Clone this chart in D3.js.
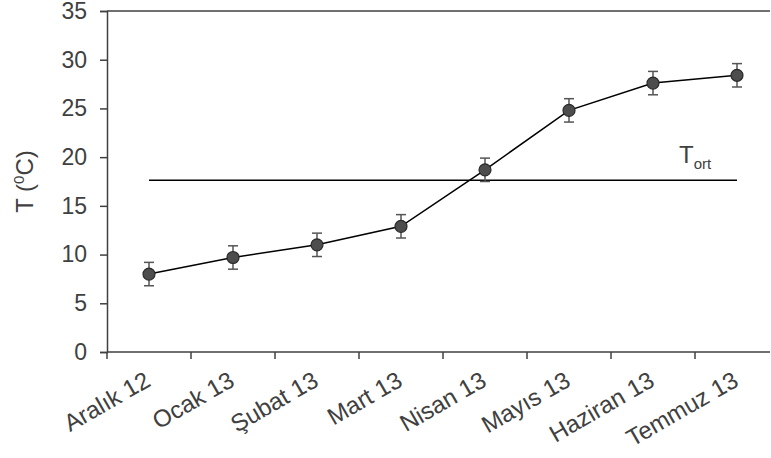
<!DOCTYPE html>
<html>
<head>
<meta charset="utf-8">
<script src="https://cdn.jsdelivr.net/npm/d3@7"></script>
<style>
  body { margin: 0; background: #fff; }
  svg { display: block; font-family: "Liberation Sans", Arial, sans-serif; }
</style>
</head>
<body>
<svg id="chart" width="771" height="458"></svg>
<script>
// Monthly mean temperature with error bars
const months = ["Aralık 12", "Ocak 13", "Şubat 13", "Mart 13", "Nisan 13", "Mayıs 13", "Haziran 13", "Temmuz 13"];
const temps  = [8.0, 9.7, 11.0, 12.9, 18.7, 24.8, 27.6, 28.4];
const errors = [1.2, 1.2, 1.2, 1.2, 1.2, 1.2, 1.2, 1.2];
const yTicks = [0, 5, 10, 15, 20, 25, 30, 35];
const tMean = d3.mean(temps);

const svg = d3.select("#chart");
const plotLeft = 107, plotRight = 770, plotTop = 11, plotBottom = 352;
const axisColor = "#404040";
const fontSize = "23px";

const x = d3.scaleBand().domain(months).range([plotLeft, plotLeft + 84 * months.length]);
const y = d3.scaleLinear().domain([0, 35]).range([plotBottom, plotTop]);
const cx = d => x(d) + x.bandwidth() / 2;

// top border line
svg.append("line").attr("x1", plotLeft).attr("x2", plotRight).attr("y1", plotTop).attr("y2", plotTop)
  .attr("stroke", axisColor).attr("stroke-width", 1.5);

// y axis
const yAxis = svg.append("g").attr("transform", `translate(${plotLeft},0)`)
  .call(d3.axisLeft(y).tickValues(yTicks).tickSize(7).tickPadding(13).tickFormat(d3.format("d")));
yAxis.select(".domain").attr("stroke", axisColor).attr("stroke-width", 1.5);
yAxis.selectAll(".tick line").attr("stroke", axisColor).attr("stroke-width", 1.5);
yAxis.selectAll(".tick text").attr("fill", axisColor).style("font-size", fontSize)
  .attr("font-family", "Liberation Sans, Arial, sans-serif");

// x axis: ticks at category boundaries
const xAxisG = svg.append("g");
xAxisG.append("line").attr("x1", plotLeft).attr("x2", plotRight).attr("y1", plotBottom).attr("y2", plotBottom)
  .attr("stroke", axisColor).attr("stroke-width", 1.5);
xAxisG.selectAll("line.tk").data(months).join("line").attr("class", "tk")
  .attr("x1", d => x(d)).attr("x2", d => x(d))
  .attr("y1", plotBottom).attr("y2", plotBottom + 7)
  .attr("stroke", axisColor).attr("stroke-width", 1.5);
xAxisG.selectAll("text").data(months).join("text")
  .attr("transform", d => `translate(${cx(d) + 3},${plotBottom + 33}) rotate(-30)`)
  .attr("text-anchor", "end")
  .attr("fill", axisColor)
  .style("font-size", "24px")
  .text(d => d);

// y axis title
svg.append("text")
  .attr("transform", `translate(33,${(plotTop + plotBottom) / 2}) rotate(-90)`)
  .attr("text-anchor", "middle")
  .attr("fill", axisColor)
  .style("font-size", "24px")
  .html('T (<tspan dy="-9" font-size="15">0</tspan><tspan dy="9">C)</tspan>');

// mean temperature line
svg.append("line")
  .attr("x1", cx(months[0])).attr("x2", cx(months[months.length - 1]))
  .attr("y1", y(tMean)).attr("y2", y(tMean))
  .attr("stroke", "#000").attr("stroke-width", 1.5);
svg.append("text")
  .attr("x", 679).attr("y", 163)
  .attr("fill", axisColor)
  .style("font-size", "24px")
  .html('T<tspan dy="6" font-size="15">ort</tspan>');

// series line
const line = d3.line().x((d, i) => cx(months[i])).y(d => y(d));
svg.append("path").datum(temps).attr("d", line)
  .attr("fill", "none").attr("stroke", "#000").attr("stroke-width", 1.5);

// error bars
const eb = svg.append("g").attr("stroke", "#555").attr("stroke-width", 1.5);
temps.forEach((t, i) => {
  const xc = cx(months[i]);
  const hi = y(t + errors[i]), lo = y(t - errors[i]);
  eb.append("line").attr("x1", xc).attr("x2", xc).attr("y1", hi).attr("y2", lo);
  eb.append("line").attr("x1", xc - 5).attr("x2", xc + 5).attr("y1", hi).attr("y2", hi);
  eb.append("line").attr("x1", xc - 5).attr("x2", xc + 5).attr("y1", lo).attr("y2", lo);
});

// markers
svg.append("g").selectAll("circle").data(temps).join("circle")
  .attr("cx", (d, i) => cx(months[i])).attr("cy", d => y(d)).attr("r", 6)
  .attr("fill", "#4d4d4d").attr("stroke", "#2a2a2a").attr("stroke-width", 1.2);
</script>
</body>
</html>
